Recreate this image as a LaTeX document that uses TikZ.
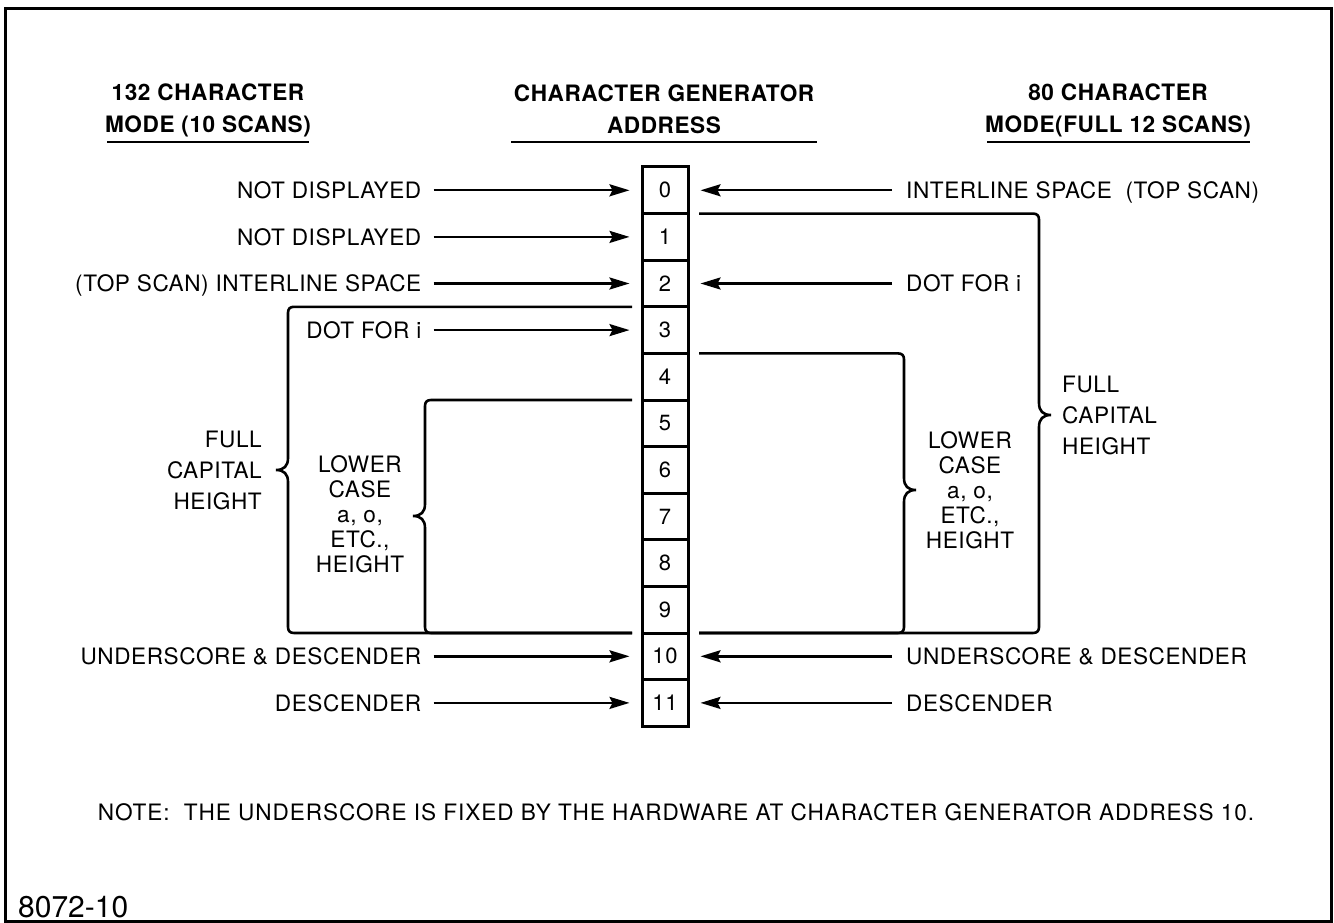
\documentclass[tikz,border=0pt]{standalone}
\usepackage{fontspec}
\setmainfont{TeX Gyre Heros}[LetterSpace=2.5]
\newfontfamily\idfont{TeX Gyre Heros}
\usetikzlibrary{arrows.meta,positioning}

\begin{document}
\begin{tikzpicture}[x=1pt,y=-1pt,
  lbl/.style={inner sep=0pt, text height=16.2pt, text depth=0pt, font=\fontsize{22.6}{26}\selectfont},
  head/.style={inner sep=0pt, align=center, anchor=north, font=\fontsize{22.6}{32}\selectfont\bfseries},
  cell/.style={draw, line width=3pt, minimum width=46pt, minimum height=46.6pt, inner sep=0pt, font=\fontsize{22}{24}\selectfont},
  arr/.style={-{Stealth[length=20pt,width=12pt,inset=3pt]}, line width=2.4pt},
  bracepath/.style={line width=2.6pt},
  uline/.style={line width=2.6pt}]
  \useasboundingbox (0,0) rectangle (1334,923);
  \draw[line width=3pt] (5,9) rectangle (1331,921);
  % headings
  \node[head] (hleft) at (208,84) {132 CHARACTER\\MODE (10 SCANS)};
  \node[head] (hmid) at (664,85) {CHARACTER GENERATOR\\ADDRESS};
  \node[head] (hright) at (1118,84) {80 CHARACTER\\MODE(FULL 12 SCANS)};
  \draw[uline] (107,142) -- (309,142);
  \draw[uline] (511,142) -- (817,142);
  \draw[uline] (987,142) -- (1250,142);
  % address column
  \foreach \i in {0,...,11}
    \node[cell] (c\i) at (665,{190.3+46.6*\i}) {\i};
  % 132 character side
  \foreach \i/\t in {0/NOT DISPLAYED, 1/NOT DISPLAYED, 2/{(TOP SCAN) INTERLINE SPACE},
                     3/DOT FOR i, 10/UNDERSCORE \& DESCENDER, 11/DESCENDER} {
    \node[lbl, left=219pt of c\i] (l\i) {\t};
    \draw[arr, shorten <=12pt, shorten >=11pt] (l\i) -- (c\i);
  }
  \draw[bracepath] (632,306.8) -- (294,306.8) .. controls (290,306.8) and (288,308.8) .. (288,312.8)
    -- (288,458) .. controls (288,466) and (284,470) .. (276,470)
    .. controls (284,470) and (288,474) .. (288,482)
    -- (288,627) .. controls (288,631) and (290,633) .. (294,633) -- (632,633);
  \draw[bracepath] (632,400) -- (431,400) .. controls (427,400) and (425,402) .. (425,406)
    -- (425,504) .. controls (425,512) and (421,516) .. (413,516)
    .. controls (421,516) and (425,520) .. (425,528)
    -- (425,627) .. controls (425,631) and (427,633) .. (431,633) -- (632,633);
  \node[align=right, anchor=east, inner sep=0pt, font=\fontsize{22.6}{31}\selectfont] (capl) at (262,470) {FULL\\CAPITAL\\HEIGHT};
  \node[align=center, inner sep=0pt, font=\fontsize{22.6}{25}\selectfont] (lowl) at (360,514) {LOWER\\CASE\\a, o,\\ETC.,\\HEIGHT};
  % 80 character side
  \foreach \i/\t in {0/INTERLINE SPACE\ \ (TOP SCAN), 2/DOT FOR i,
                     10/UNDERSCORE \& DESCENDER, 11/DESCENDER} {
    \node[lbl, right=216.5pt of c\i] (r\i) {\t};
    \draw[arr, shorten <=14pt, shorten >=11pt] (r\i) -- (c\i);
  }
  \draw[bracepath] (699,213.6) -- (1033,213.6) .. controls (1037,213.6) and (1039,215.6) .. (1039,219.6)
    -- (1039,403) .. controls (1039,411) and (1043,415) .. (1051,415)
    .. controls (1043,415) and (1039,419) .. (1039,427)
    -- (1039,627) .. controls (1039,631) and (1037,633) .. (1033,633) -- (699,633);
  \draw[bracepath] (699,353.4) -- (898,353.4) .. controls (902,353.4) and (904,355.4) .. (904,359.4)
    -- (904,478) .. controls (904,486) and (908,490) .. (916,490)
    .. controls (908,490) and (904,494) .. (904,502)
    -- (904,627) .. controls (904,631) and (902,633) .. (898,633) -- (699,633);
  \node[align=left, anchor=west, inner sep=0pt, font=\fontsize{22.6}{31}\selectfont] (capr) at (1062,415) {FULL\\CAPITAL\\HEIGHT};
  \node[align=center, inner sep=0pt, font=\fontsize{22.6}{25}\selectfont] (lowr) at (970,490) {LOWER\\CASE\\a, o,\\ETC.,\\HEIGHT};
  % note and figure number
  \node[lbl, font=\fontsize{22.6}{26}\selectfont\addfontfeature{LetterSpace=4}] (note) at (676,812) {NOTE:\ \ THE UNDERSCORE IS FIXED BY THE HARDWARE AT CHARACTER GENERATOR ADDRESS 10.};
  \node[inner sep=0pt, anchor=west, text height=21pt, text depth=0pt, font=\idfont\fontsize{30}{32}\selectfont] (figno) at (18,907) {8072-10};
\end{tikzpicture}
\end{document}
